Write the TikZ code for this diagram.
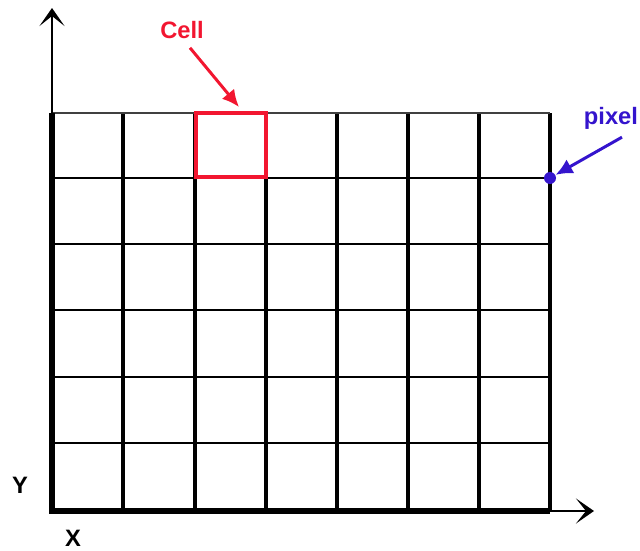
\documentclass[tikz,border=0pt]{standalone}
\usepackage{fontspec}
\setmainfont{Liberation Sans}
\usetikzlibrary{
  arrows.meta,
  positioning
}
\definecolor{cellRed}{RGB}{242,22,48}
\definecolor{pixelBlue}{RGB}{52,20,205}
\colorlet{ink}{black}
\tikzset{
  axis/.style={-{Stealth[length=3.6mm,width=5mm,inset=2mm]}, draw=ink, line width=1.5pt},
  vline/.style={draw=ink, line width=2.1pt},
  hline/.style={draw=ink, line width=1.4pt},
  border/.style={draw=ink, line width=3pt},
  tag/.style={font=\bfseries\fontsize{13.5}{15}\selectfont, inner sep=1pt},
  pointer/.style={-{Latex[length=3.4mm,width=3.2mm]}, line width=1.7pt}
}

\begin{document}
\begin{tikzpicture}[x=0.02cm,y=-0.02cm]
  \useasboundingbox (0,0) rectangle (640,551);

  % grid of cells
  \foreach \x in {123,195,266,337,408,479,550}{
    \draw[vline] (\x,113) -- (\x,511);
  }
  \foreach \y in {178,244,310,377,443}{
    \draw[hline] (52,\y) -- (550,\y);
  }
  \draw[draw=black!75, line width=1.1pt] (52,113) -- (550,113);

  % axes
  \coordinate (origin) at (52,511);
  \coordinate (ytip) at (52,8);
  \coordinate (xtip) at (594,511);
  \draw[axis] (origin) -- (ytip);
  \draw[axis] (origin) -- (xtip);
  \draw[border] (52,113) -- (origin) -- (550,511);
  \node[tag] (ylab) at (20,485) {Y};
  \node[tag] (xlab) at (73,538) {X};

  % one cell
  \draw[cellRed, line width=2.2pt] (196,113) rectangle (266,177);
  \node[tag, text=cellRed] (celllab) at (182,30) {Cell};
  \coordinate (celltip) at (239,107);
  \draw[pointer, cellRed] ([shift={(8,7)}]celllab.south) -- (celltip);

  % one pixel
  \node[circle, fill=pixelBlue, inner sep=0pt, minimum size=0.24cm] (pix) at (550,178) {};
  \node[tag, text=pixelBlue] (pixlab) at (611,118) {pixel};
  \draw[pointer, pixelBlue] ([shift={(11,6)}]pixlab.south) -- (pix);
\end{tikzpicture}
\end{document}
